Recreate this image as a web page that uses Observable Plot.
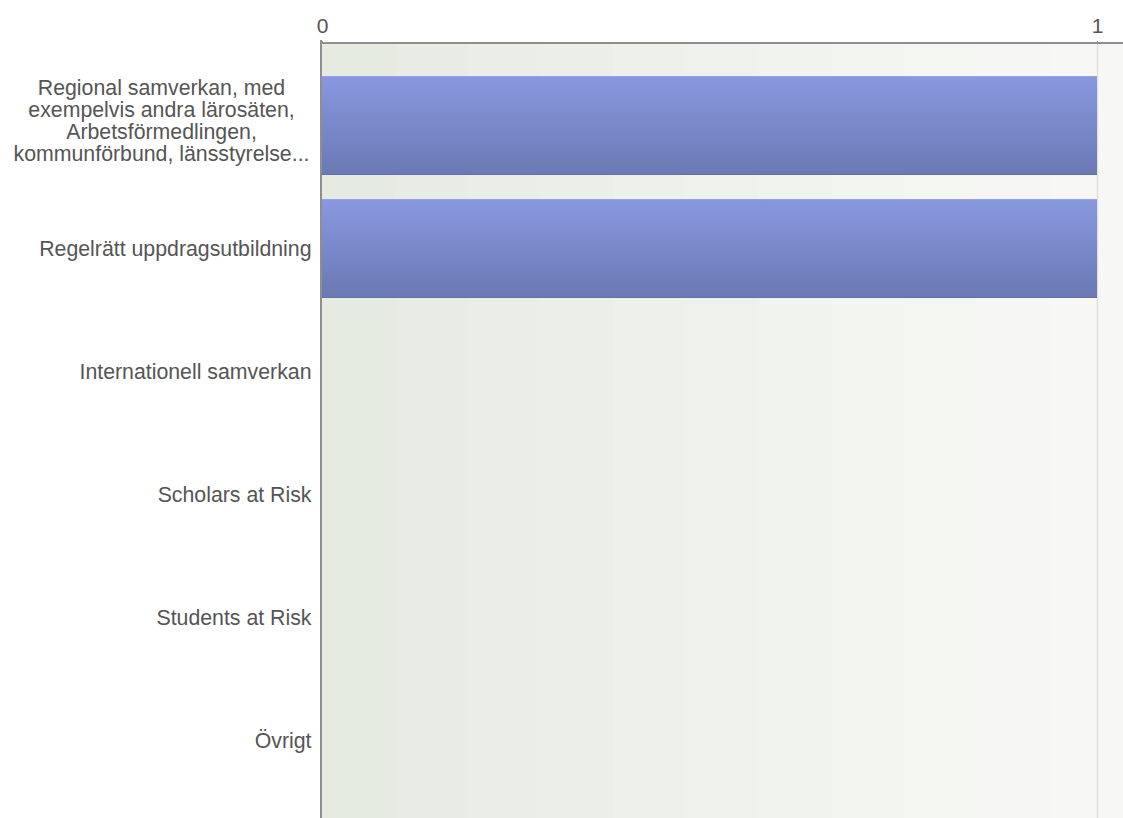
<!DOCTYPE html>
<html>
<head>
<meta charset="utf-8">
<script src="https://cdn.jsdelivr.net/npm/d3@7"></script>
<script src="https://cdn.jsdelivr.net/npm/@observablehq/plot@0.6"></script>
<style>
  html, body { margin: 0; padding: 0; background: #fff; }
</style>
</head>
<body>
<div id="chart"></div>
<script>
const categories = [
  "Regional samverkan, med\nexempelvis andra lärosäten,\nArbetsförmedlingen,\nkommunförbund, länsstyrelse...",
  "Regelrätt uppdragsutbildning",
  "Internationell samverkan",
  "Scholars at Risk",
  "Students at Risk",
  "Övrigt"
];
const values = [1, 1, 0, 0, 0, 0];
const xTicks = [0, 1];

const data = categories.map((c, i) => ({category: c, value: values[i]}));

const bgStops = ["#e6ebe2", "#e8ece4", "#eaeee6", "#ecefe8", "#eef1ea", "#eff2ec", "#f1f3ee", "#f3f5f0", "#f4f6f2", "#f6f7f4", "#f7f8f6"];

function backdrop(index, scales, values, dim) {
  const g = d3.create("svg:g");
  const defs = g.append("defs");
  const lg = defs.append("linearGradient").attr("id", "bgGrad").attr("x1", 0).attr("x2", 1).attr("y1", 0).attr("y2", 0);
  const n = bgStops.length;
  bgStops.forEach((c, i) => {
    lg.append("stop").attr("offset", i / n).attr("stop-color", c);
    lg.append("stop").attr("offset", (i + 1) / n).attr("stop-color", c);
  });
  const bar = defs.append("linearGradient").attr("id", "barGrad").attr("x1", 0).attr("x2", 0).attr("y1", 0).attr("y2", 1);
  bar.append("stop").attr("offset", 0).attr("stop-color", "#9aa7ea");
  bar.append("stop").attr("offset", 0.015).attr("stop-color", "#8798df");
  bar.append("stop").attr("offset", 0.985).attr("stop-color", "#6b79b4");
  bar.append("stop").attr("offset", 1).attr("stop-color", "#5f6ca6");
  g.append("rect")
    .attr("x", dim.marginLeft)
    .attr("y", dim.marginTop)
    .attr("width", dim.width - dim.marginLeft)
    .attr("height", dim.height - dim.marginTop)
    .attr("fill", "url(#bgGrad)");
  return g.node();
}

function frameLines(index, scales, values, dim) {
  const g = d3.create("svg:g").attr("stroke", "#8e8e8e").attr("stroke-width", 2);
  g.append("line")
    .attr("x1", dim.marginLeft).attr("x2", dim.width)
    .attr("y1", dim.marginTop).attr("y2", dim.marginTop);
  g.append("line")
    .attr("x1", dim.marginLeft - 1).attr("x2", dim.marginLeft - 1)
    .attr("y1", dim.marginTop - 3).attr("y2", dim.height);
  return g.node();
}

const chart = Plot.plot({
  width: 1123,
  height: 818,
  marginLeft: 322,
  marginRight: 26,
  marginTop: 43,
  marginBottom: 0,
  style: {
    fontFamily: "'Liberation Sans', Arial, sans-serif",
    fontSize: "21px",
    color: "#555555",
    background: "#fff"
  },
  x: {domain: [0, 1], axis: null, label: null},
  y: {
    domain: categories,
    axis: null,
    label: null,
    paddingInner: 0.195,
    paddingOuter: 0.0975,
    insetTop: 21,
    insetBottom: 16
  },
  marks: [
    backdrop,
    Plot.ruleX([1], {stroke: "#dcdfdb", strokeWidth: 1.5}),
    Plot.barX(data, {y: "category", x: "value", fill: "url(#barGrad)"}),
    frameLines,
    Plot.axisX(xTicks, {
      anchor: "top",
      label: null,
      tickSize: 3,
      tickPadding: 8,
      tickFormat: d => String(d),
      stroke: "#8e8e8e",
      fontSize: 21
    }),
    Plot.axisY(categories.slice(1), {
      anchor: "left",
      label: null,
      tickSize: 0,
      tickPadding: 11,
      fontSize: 21.3
    }),
    Plot.axisY(categories.slice(0, 1), {
      anchor: "left",
      label: null,
      tickSize: 0,
      tickPadding: 11,
      textAnchor: "middle",
      dx: -150,
      dy: -5,
      lineHeight: 1.03,
      fontSize: 21.3
    })
  ]
});

document.getElementById("chart").appendChild(chart);
</script>
</body>
</html>
